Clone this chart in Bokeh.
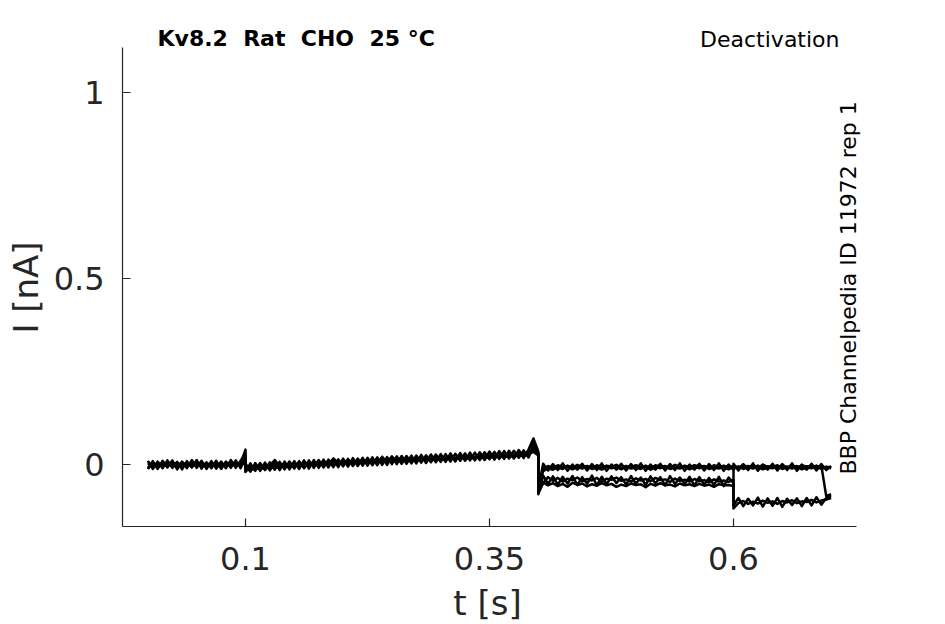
import numpy as np
from bokeh.plotting import figure
from bokeh.models import Range1d, FixedTicker, Label
from bokeh.embed import file_html
from bokeh.resources import INLINE

# ---------------- data ----------------
# protocol segment edges [s] and number of samples per segment
seg_edges = [0.0, 0.1, 0.4, 0.6, 0.7]
seg_counts = [21, 61, 41, 21]

# six sweeps, current in nA, one list per protocol segment
sweep1 = [
    [-0.012, 0.004, -0.003, 0.002, -0.004, 0.003, -0.002, 0.005, -0.003, 0.001, -0.004,
     0.004, -0.002, 0.003, -0.005, 0.002, -0.001, 0.004, -0.003, 0.002, 0.040],
    [-0.016, -0.006, -0.010, -0.004, -0.009, -0.002, 0.012, -0.005, 0.000, -0.004, 0.003,
     -0.002, 0.005, 0.000, 0.006, 0.001, 0.007, 0.002, 0.016, 0.004, 0.009, 0.003, 0.010,
     0.005, 0.012, 0.006, 0.011, 0.007, 0.019, 0.009, 0.014, 0.008, 0.015, 0.010, 0.016,
     0.011, 0.017, 0.012, 0.018, 0.013, 0.024, 0.015, 0.020, 0.014, 0.021, 0.016, 0.022,
     0.017, 0.023, 0.018, 0.025, 0.019, 0.026, 0.021, 0.027, 0.022, 0.030, 0.024, 0.036,
     0.062, 0.030],
    [-0.075, -0.012, -0.004, -0.009, -0.002, -0.008, -0.003, -0.010, -0.001, -0.007, -0.004,
     -0.009, -0.002, -0.008, -0.003, -0.006, -0.001, -0.009, -0.004, -0.007, -0.002, -0.008,
     -0.003, -0.010, -0.002, -0.006, -0.004, -0.009, -0.001, -0.007, -0.003, -0.008, -0.002,
     -0.006, -0.004, -0.009, -0.002, -0.007, -0.003, -0.008, -0.004],
    [-0.004, -0.008, -0.002, -0.007, -0.003, -0.009, -0.001, -0.006, -0.004, -0.008, -0.002,
     -0.007, -0.003, -0.009, -0.002, -0.006, -0.004, -0.008, -0.003, -0.085, -0.080],
]
sweep2 = [
    [0.006, -0.003, 0.002, -0.005, 0.001, -0.002, 0.004, -0.004, 0.002, -0.001, 0.003,
     -0.005, 0.001, -0.003, 0.004, -0.002, 0.002, -0.004, 0.003, -0.001, 0.010],
    [-0.012, -0.016, -0.008, -0.013, -0.006, -0.011, -0.004, -0.009, 0.002, -0.006, -0.001,
     -0.005, 0.001, -0.003, 0.003, -0.002, 0.004, 0.000, 0.006, 0.001, 0.007, 0.002, 0.013,
     0.003, 0.008, 0.004, 0.010, 0.005, 0.011, 0.006, 0.012, 0.007, 0.018, 0.008, 0.013,
     0.009, 0.014, 0.010, 0.015, 0.011, 0.017, 0.012, 0.018, 0.013, 0.024, 0.014, 0.019,
     0.015, 0.021, 0.016, 0.022, 0.018, 0.023, 0.019, 0.025, 0.020, 0.026, 0.022, 0.028,
     0.034, 0.024],
    [-0.060, -0.018, -0.010, -0.014, -0.008, -0.012, -0.006, -0.013, -0.007, -0.011, -0.005,
     -0.012, -0.008, -0.014, -0.006, -0.010, -0.007, -0.013, -0.005, -0.011, -0.008, -0.012,
     -0.006, -0.014, -0.007, -0.010, -0.005, -0.012, -0.008, -0.011, -0.006, -0.013, -0.007,
     -0.010, -0.005, -0.012, -0.008, -0.011, -0.006, -0.013, -0.007],
    [-0.010, -0.006, -0.012, -0.007, -0.011, -0.005, -0.013, -0.008, -0.010, -0.006, -0.012,
     -0.007, -0.011, -0.005, -0.013, -0.008, -0.010, -0.006, -0.012, -0.007, -0.010],
]
sweep3 = [
    [-0.008, 0.002, -0.004, 0.003, -0.002, 0.005, -0.003, 0.001, -0.005, 0.003, -0.001,
     0.002, -0.004, 0.004, -0.002, 0.001, -0.003, 0.003, -0.002, 0.004, 0.015],
    [-0.018, -0.010, -0.014, -0.007, -0.012, -0.005, -0.010, -0.003, -0.008, -0.001, -0.006,
     0.001, -0.004, 0.002, -0.002, 0.004, -0.001, 0.005, 0.000, 0.006, 0.002, 0.008, 0.003,
     0.009, 0.004, 0.010, 0.005, 0.011, 0.006, 0.012, 0.007, 0.013, 0.008, 0.014, 0.009,
     0.015, 0.011, 0.016, 0.012, 0.017, 0.013, 0.018, 0.014, 0.019, 0.015, 0.020, 0.016,
     0.021, 0.017, 0.022, 0.018, 0.024, 0.019, 0.025, 0.021, 0.026, 0.022, 0.028, 0.024,
     0.045, 0.026],
    [-0.078, -0.050, -0.034, -0.044, -0.036, -0.046, -0.038, -0.042, -0.035, -0.045, -0.039,
     -0.043, -0.036, -0.047, -0.038, -0.041, -0.035, -0.044, -0.040, -0.046, -0.037, -0.043,
     -0.039, -0.045, -0.036, -0.042, -0.040, -0.047, -0.038, -0.044, -0.041, -0.046, -0.039,
     -0.045, -0.042, -0.048, -0.040, -0.046, -0.043, -0.047, -0.041],
    [-0.118, -0.104, -0.098, -0.106, -0.100, -0.105, -0.097, -0.103, -0.099, -0.106, -0.098,
     -0.102, -0.096, -0.104, -0.099, -0.101, -0.095, -0.102, -0.097, -0.094, -0.090],
]
sweep4 = [
    [0.002, -0.005, 0.003, -0.002, 0.004, -0.004, 0.001, -0.003, 0.005, -0.002, 0.002,
     -0.004, 0.003, -0.001, 0.002, -0.005, 0.004, -0.002, 0.001, -0.003, 0.006],
    [-0.010, -0.014, -0.006, -0.011, -0.004, -0.009, -0.002, -0.007, 0.000, -0.005, 0.002,
     -0.003, 0.003, -0.001, 0.005, 0.000, 0.006, 0.001, 0.008, 0.002, 0.009, 0.004, 0.010,
     0.005, 0.011, 0.006, 0.012, 0.008, 0.013, 0.009, 0.020, 0.010, 0.015, 0.011, 0.016,
     0.012, 0.017, 0.014, 0.018, 0.015, 0.019, 0.016, 0.020, 0.017, 0.022, 0.018, 0.023,
     0.019, 0.024, 0.021, 0.025, 0.022, 0.032, 0.023, 0.027, 0.024, 0.029, 0.026, 0.031,
     0.040, 0.028],
    [-0.070, -0.048, -0.056, -0.050, -0.058, -0.052, -0.060, -0.049, -0.055, -0.051, -0.059,
     -0.053, -0.057, -0.050, -0.056, -0.052, -0.060, -0.054, -0.058, -0.051, -0.055, -0.053,
     -0.061, -0.052, -0.057, -0.050, -0.056, -0.054, -0.059, -0.051, -0.056, -0.053, -0.058,
     -0.052, -0.057, -0.054, -0.060, -0.053, -0.056, -0.055, -0.058],
    [-0.012, -0.006, -0.010, -0.004, -0.009, -0.003, -0.011, -0.005, -0.008, -0.002, -0.010,
     -0.006, -0.009, -0.004, -0.011, -0.005, -0.007, -0.003, -0.010, -0.006, -0.008],
]
sweep5 = [
    [0.010, -0.012, 0.008, -0.010, 0.011, -0.009, 0.007, -0.013, 0.009, -0.008, 0.012,
     -0.011, 0.006, -0.010, 0.010, -0.012, 0.008, -0.009, 0.011, -0.010, 0.020],
    [-0.020, 0.003, -0.017, 0.004, -0.015, 0.006, -0.014, 0.007, -0.013, 0.008, -0.011,
     0.009, -0.010, 0.011, -0.009, 0.012, -0.008, 0.013, -0.007, 0.014, -0.005, 0.015,
     -0.004, 0.016, -0.003, 0.018, -0.002, 0.019, -0.001, 0.020, 0.001, 0.022, 0.002,
     0.023, 0.003, 0.024, 0.005, 0.025, 0.006, 0.027, 0.007, 0.028, 0.008, 0.029, 0.010,
     0.030, 0.011, 0.032, 0.012, 0.033, 0.014, 0.034, 0.015, 0.036, 0.016, 0.037, 0.018,
     0.038, 0.019, 0.050, 0.028],
    [-0.065, 0.002, -0.016, 0.001, -0.015, 0.003, -0.017, 0.000, -0.014, 0.002, -0.016,
     0.001, -0.015, 0.003, -0.017, 0.000, -0.014, 0.002, -0.016, 0.001, -0.015, 0.003,
     -0.017, 0.000, -0.014, 0.002, -0.016, 0.001, -0.015, 0.003, -0.017, 0.000, -0.014,
     0.002, -0.016, 0.001, -0.015, 0.003, -0.017, 0.000, -0.014],
    [0.002, -0.016, 0.001, -0.015, 0.003, -0.017, 0.000, -0.014, 0.002, -0.016, 0.001,
     -0.015, 0.003, -0.017, 0.000, -0.014, 0.002, -0.016, 0.001, -0.015, -0.004],
]
sweep6 = [
    [-0.011, 0.009, -0.012, 0.010, -0.008, 0.011, -0.013, 0.008, -0.010, 0.012, -0.009,
     0.010, -0.012, 0.009, -0.011, 0.008, -0.010, 0.012, -0.009, 0.010, 0.030],
    [0.003, -0.019, 0.004, -0.017, 0.005, -0.016, 0.008, -0.015, 0.008, -0.013, 0.009,
     -0.012, 0.011, -0.011, 0.012, -0.009, 0.013, -0.008, 0.015, -0.007, 0.016, -0.006,
     0.017, -0.004, 0.018, -0.003, 0.019, -0.002, 0.021, -0.001, 0.022, 0.001, 0.023,
     0.002, 0.024, 0.003, 0.026, 0.004, 0.027, 0.006, 0.028, 0.007, 0.030, 0.008, 0.031,
     0.010, 0.032, 0.011, 0.033, 0.012, 0.035, 0.013, 0.036, 0.015, 0.037, 0.016, 0.039,
     0.017, 0.040, 0.070, 0.035],
    [-0.080, -0.030, -0.052, -0.032, -0.054, -0.033, -0.051, -0.031, -0.055, -0.034, -0.052,
     -0.030, -0.056, -0.033, -0.053, -0.032, -0.050, -0.034, -0.054, -0.031, -0.052, -0.035,
     -0.055, -0.032, -0.051, -0.034, -0.056, -0.031, -0.053, -0.035, -0.052, -0.033, -0.057,
     -0.034, -0.054, -0.036, -0.055, -0.033, -0.058, -0.035, -0.050],
    [-0.110, -0.090, -0.112, -0.092, -0.110, -0.089, -0.113, -0.091, -0.111, -0.090, -0.114,
     -0.092, -0.109, -0.091, -0.112, -0.090, -0.110, -0.088, -0.108, -0.090, -0.085],
]
sweeps = [sweep1, sweep2, sweep3, sweep4, sweep5, sweep6]

x_ticks = [0.1, 0.35, 0.6]
x_tick_labels = ["0.1", "0.35", "0.6"]
y_ticks = [0, 0.5, 1]
y_tick_labels = ["0", "0.5", "1"]

# visible extent of the axes (spines)
x_bounds = (-0.026, 0.726)
y_bounds = (-0.1667, 1.121)

title_text = "Kv8.2 \u00a0Rat \u00a0CHO \u00a025 °C"
protocol_text = "Deactivation"
source_text = "BBP Channelpedia ID 11972 rep 1"
x_label = "t [s]"
y_label = "I [nA]"

# sampling grid of the recording (segment boundaries appear twice -> vertical steps)
t = np.concatenate([np.linspace(seg_edges[i], seg_edges[i + 1], seg_counts[i])
                    for i in range(len(seg_counts))])

# ---------------- figure ----------------
FONT = "DejaVu Sans"
GREY = "#262626"
W, H = 945, 624

# the frame covers the whole canvas; the axes sit at fixed data positions and
# are limited to their bounds, so every text can be a label inside the frame
p = figure(width=W, height=H, output_backend="svg", toolbar_location=None,
           x_range=Range1d(-0.15102, 0.81721), y_range=Range1d(-0.43011, 1.24731),
           min_border=0)
p.outline_line_color = None
p.grid.visible = False
p.background_fill_color = "white"
p.border_fill_color = "white"

for sw in sweeps:
    p.line(t, np.concatenate(sw), line_color="black", line_width=2.5,
           line_join="round")

for ax in (p.xaxis[0], p.yaxis[0]):
    ax.axis_line_color = GREY
    ax.axis_line_width = 1.2
    ax.major_tick_line_color = GREY
    ax.major_tick_line_width = 1.2
    ax.major_tick_in = 8
    ax.major_tick_out = 0
    ax.minor_tick_line_color = None
    ax.major_label_text_font = FONT
    ax.major_label_text_font_size = "32px"
    ax.major_label_text_color = GREY

p.xaxis.bounds = x_bounds
p.yaxis.bounds = y_bounds
p.xaxis.fixed_location = y_bounds[0]
p.yaxis.fixed_location = x_bounds[0]
p.xaxis.ticker = FixedTicker(ticks=x_ticks)
p.xaxis.major_label_overrides = dict(zip(x_ticks, x_tick_labels))
p.yaxis.ticker = FixedTicker(ticks=y_ticks)
p.yaxis.major_label_overrides = dict(zip(y_ticks, y_tick_labels))
p.xaxis.major_label_standoff = 20
p.yaxis.major_label_standoff = 18

# axis titles
p.add_layout(Label(x=487, y=22, x_units="screen", y_units="screen", text=x_label,
                   text_font=FONT, text_font_size="34px", text_color=GREY,
                   text_align="center", text_baseline="alphabetic"))
p.add_layout(Label(x=25, y=337, x_units="screen", y_units="screen", text=y_label,
                   angle=np.pi / 2, text_font=FONT, text_font_size="34px",
                   text_color=GREY, text_align="center", text_baseline="alphabetic"))

# header and source texts
p.add_layout(Label(x=157, y=586, x_units="screen", y_units="screen", text=title_text,
                   text_font=FONT, text_font_size="22px", text_font_style="bold",
                   text_color="black", text_align="left", text_baseline="alphabetic"))
p.add_layout(Label(x=839, y=585, x_units="screen", y_units="screen", text=protocol_text,
                   text_font=FONT, text_font_size="22px", text_color="black",
                   text_align="right", text_baseline="alphabetic"))
p.add_layout(Label(x=848, y=150, x_units="screen", y_units="screen", text=source_text,
                   angle=np.pi / 2, text_font=FONT, text_font_size="22px",
                   text_color="black", text_align="left", text_baseline="alphabetic"))

open("out.html", "w").write(file_html(p, INLINE))
